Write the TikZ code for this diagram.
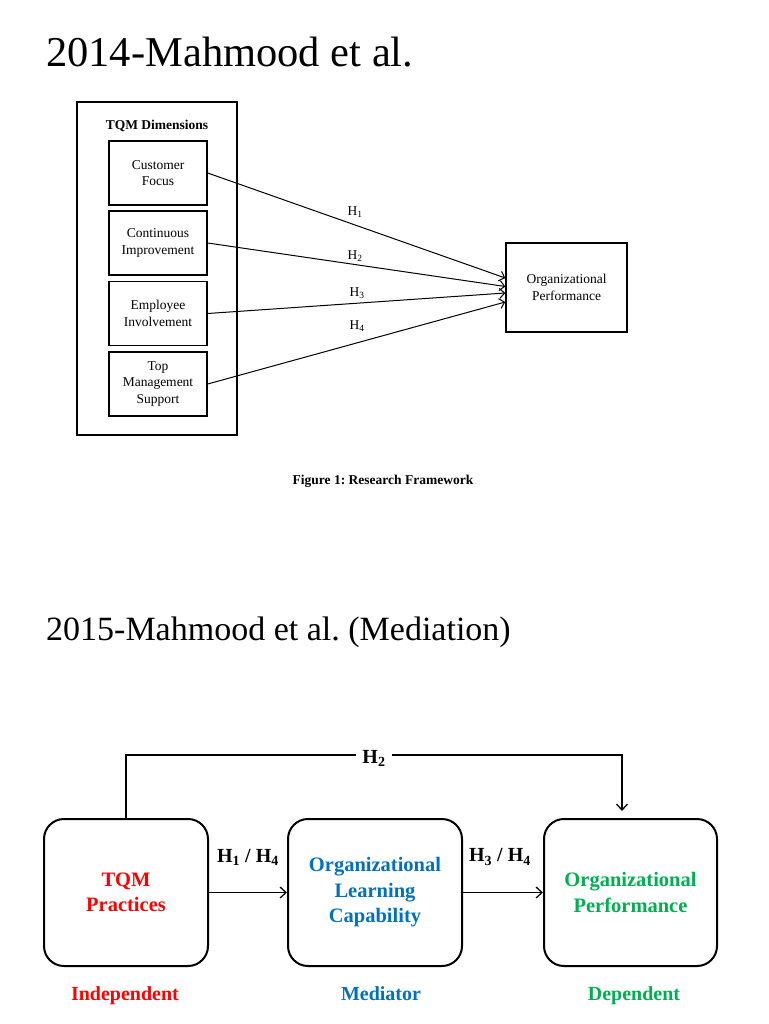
\documentclass[tikz,border=0pt]{standalone}
\usepackage{fontspec}
\setmainfont{Liberation Serif}
\usetikzlibrary{arrows.meta,calc}
\definecolor{indred}{HTML}{FF0000}
\definecolor{medblue}{HTML}{0070C0}
\definecolor{depgreen}{HTML}{00B050}
\frenchspacing
\tikzset{
  sbox/.style={draw, line width=1.4pt, minimum width=98pt, minimum height=64pt, align=center, inner sep=0pt,
    font=\fontsize{13.5}{16.5}\selectfont},
  small/.style={font=\fontsize{13.5}{16.5}\selectfont},
  arr/.style={line width=1pt, -{Straight Barb[length=5pt,width=10pt]}},
  rbox/.style={draw, line width=2pt, rounded corners=20pt, minimum width=#1, minimum height=147pt, align=center,
    font=\fontsize{20.5}{25.5}\selectfont\bfseries},
  big/.style={font=\fontsize{20}{25}\selectfont\bfseries},
  title/.style={anchor=west, inner sep=0pt},
  barr/.style={line width=1.3pt, -{Straight Barb[length=6pt,width=11pt]}}
}
\begin{document}
\begin{tikzpicture}[x=1pt,y=-1pt]
\useasboundingbox (0,0) rectangle (768,1024);
% ---- Top part ----
\node[title, font=\fontsize{42.5}{46}\selectfont] (t1) at (46,52) {2014-Mahmood et al.};
\node[draw, line width=1.4pt, minimum width=160pt, minimum height=333pt, inner sep=0pt] (outer) at (157,268.5) {};
\node[small, font=\fontsize{13.5}{16}\selectfont\bfseries] (dim) at (157,126) {TQM Dimensions};
\node[sbox] (cf) at (158,173) {Customer\\Focus};
\node[sbox] (ci) at (158,243) {Continuous\\Improvement};
\node[sbox] (ei) at (158,313.5) {Employee\\Involvement};
\node[sbox] (tm) at (158,384) {Top\\Management\\Support};
\node[sbox, minimum width=121pt, minimum height=89pt] (op) at (566.5,287.5) {Organizational\\Performance};
\draw[arr] (cf.east) -- ($(op.west)+(0,-9.5)$);
\draw[arr] (ci.east) -- ($(op.west)+(0,-1)$);
\draw[arr] (ei.east) -- ($(op.west)+(0,5.5)$);
\draw[arr] (tm.east) -- ($(op.west)+(0,14.5)$);
\node[small] (h1) at (355,212) {H\textsubscript{1}};
\node[small] (h2) at (355,256) {H\textsubscript{2}};
\node[small] (h3) at (357,293) {H\textsubscript{3}};
\node[small] (h4) at (357,326) {H\textsubscript{4}};
\node[small, font=\fontsize{13.5}{16}\selectfont\bfseries] (cap) at (383,481) {Figure 1: Research Framework};
% ---- Bottom part ----
\node[title, font=\fontsize{34}{40}\selectfont] (t2) at (46,632) {2015-Mahmood et al. (Mediation)};
\node[rbox=164pt, text=indred] (b1) at (126,892.5) {TQM\\Practices};
\node[rbox=174pt, text=medblue] (b2) at (375,892.5) {Organizational\\Learning\\Capability};
\node[rbox=173pt, text=depgreen] (b3) at (630.5,892.5) {Organizational\\Performance};
\draw[barr] (b1.east) -- (b2.west);
\draw[barr] (b2.east) -- (b3.west);
\node[big] (l14) at (248,857) {H\textsubscript{1} / H\textsubscript{4}};
\node[big] (l34) at (500,857) {H\textsubscript{3} / H\textsubscript{4}};
\coordinate (h2mid) at (374,755);
\draw[barr] (b1.north) |- (h2mid) -| ($(b3.north)+(-8.5,-7)$);
\node[big, fill=white, inner xsep=6pt] (lh2) at (374,758) {H\textsubscript{2}};
\node[big, text=indred, anchor=base] (ind) at (125,1000) {Independent};
\node[big, text=medblue, anchor=base] (med) at (381,1000) {Mediator};
\node[big, text=depgreen, anchor=base] (dep) at (634,1000) {Dependent};
\end{tikzpicture}
\end{document}
